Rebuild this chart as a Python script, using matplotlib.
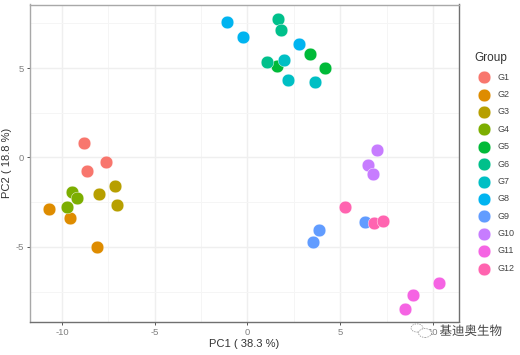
"""
PCA scatter of the samples, PC1 against PC2, coloured by group.
"""

import matplotlib
matplotlib.use("Agg")
import matplotlib.pyplot as plt
import matplotlib.patheffects as pe
from matplotlib.patches import Circle
from matplotlib.ticker import MultipleLocator

groups = ["G1", "G2", "G3", "G4", "G5", "G6", "G7", "G8", "G9", "G10", "G11", "G12"]
colors = ["#F8766D", "#DE8C00", "#B79F00", "#7CAE00", "#00BA38", "#00C08B",
          "#00BFC4", "#00B4F0", "#619CFF", "#C77CFF", "#F564E3", "#FF64B0"]

pc1 = [
    [-8.80, -8.67, -7.61],
    [-10.72, -9.55, -8.10],
    [-7.14, -7.99, -7.02],
    [-9.48, -9.21, -9.73],
    [3.39, 4.16, 1.59],
    [1.64, 1.81, 1.03],
    [1.97, 2.17, 3.66],
    [-1.12, -0.23, 2.76],
    [3.84, 3.53, 6.35],
    [6.96, 6.51, 6.77],
    [10.32, 8.92, 8.51],
    [5.24, 6.84, 7.30],
]
pc2 = [
    [0.78, -0.77, -0.25],
    [-2.89, -3.38, -4.98],
    [-1.62, -2.03, -2.67],
    [-1.92, -2.26, -2.76],
    [5.78, 4.98, 5.13],
    [7.76, 7.12, 5.32],
    [5.45, 4.33, 4.21],
    [7.57, 6.75, 6.34],
    [-4.03, -4.70, -3.60],
    [0.41, -0.43, -0.93],
    [-7.02, -7.71, -8.45],
    [-2.76, -3.66, -3.58],
]

plt.rcParams["font.family"] = ["Liberation Sans", "DejaVu Sans"]
plt.rcParams["axes.unicode_minus"] = False

fig = plt.figure(figsize=(5.2, 3.55), dpi=100)
ax = fig.add_axes([29.5 / 520, 1 - 322 / 355, (459 - 29.5) / 520, (322 - 4.5) / 355])

for g, c, x, y in zip(groups, colors, pc1, pc2):
    ax.scatter(x, y, s=84, color=c, edgecolors="white", linewidths=0.3, label=g, zorder=3)

ax.set_xlim(-11.75, 11.4)
ax.set_ylim(-9.2, 8.55)

ax.xaxis.set_major_locator(MultipleLocator(5))
ax.yaxis.set_major_locator(MultipleLocator(5))
ax.xaxis.set_minor_locator(MultipleLocator(2.5))
ax.yaxis.set_minor_locator(MultipleLocator(2.5))
ax.grid(True, which="major", color="#efefef", linewidth=1.0, zorder=0)
ax.grid(True, which="minor", color="#f5f5f5", linewidth=0.7, zorder=0)
ax.set_axisbelow(True)

ax.tick_params(which="major", length=2, width=0.7, color="#555555",
               labelsize=6.8, labelcolor="#808080", pad=2)
ax.tick_params(which="minor", length=0)

for side in ["left", "top"]:
    ax.spines[side].set_color("#a8a8a8")
for side in ["right", "bottom"]:
    ax.spines[side].set_color("#707070")
for side in ax.spines:
    ax.spines[side].set_linewidth(1.0)

ax.set_xlabel("PC1 ( 38.3 %)", fontsize=8, color="#333333", labelpad=1.5)
ax.set_ylabel("PC2 ( 18.8 %)", fontsize=8, color="#333333", labelpad=0)
ax.yaxis.set_label_coords(-0.04, 0.5)

leg = ax.legend(title="Group", loc="upper left", bbox_to_anchor=(1.0365, 0.85),
                frameon=False, fontsize=6.5, title_fontsize=8.5, labelspacing=0.93,
                handletextpad=0.5, borderpad=0, borderaxespad=0, markerscale=1.0)
leg._legend_box.align = "left"
for t in leg.get_texts():
    t.set_color("#444444")
leg.get_title().set_color("#333333")

# watermark in the lower right corner
fig.text(439.5 / 520, 1 - 331.5 / 355, "基迪奥生物", fontsize=9, color="#444444", va="center",
         family=["Noto Sans CJK SC", "DejaVu Sans"],
         path_effects=[pe.withStroke(linewidth=1.5, foreground="white")], zorder=10)
for cx, cy, r in [(417, 328, 6), (425, 333, 6.5)]:
    fig.add_artist(Circle((cx / 520, 1 - cy / 355), r / 520, transform=fig.transFigure,
                          facecolor="white", edgecolor="#888888", linewidth=0.5,
                          linestyle=(0, (2, 1.5)), zorder=9))

fig.savefig("out.png", dpi=100)
plt.close(fig)
